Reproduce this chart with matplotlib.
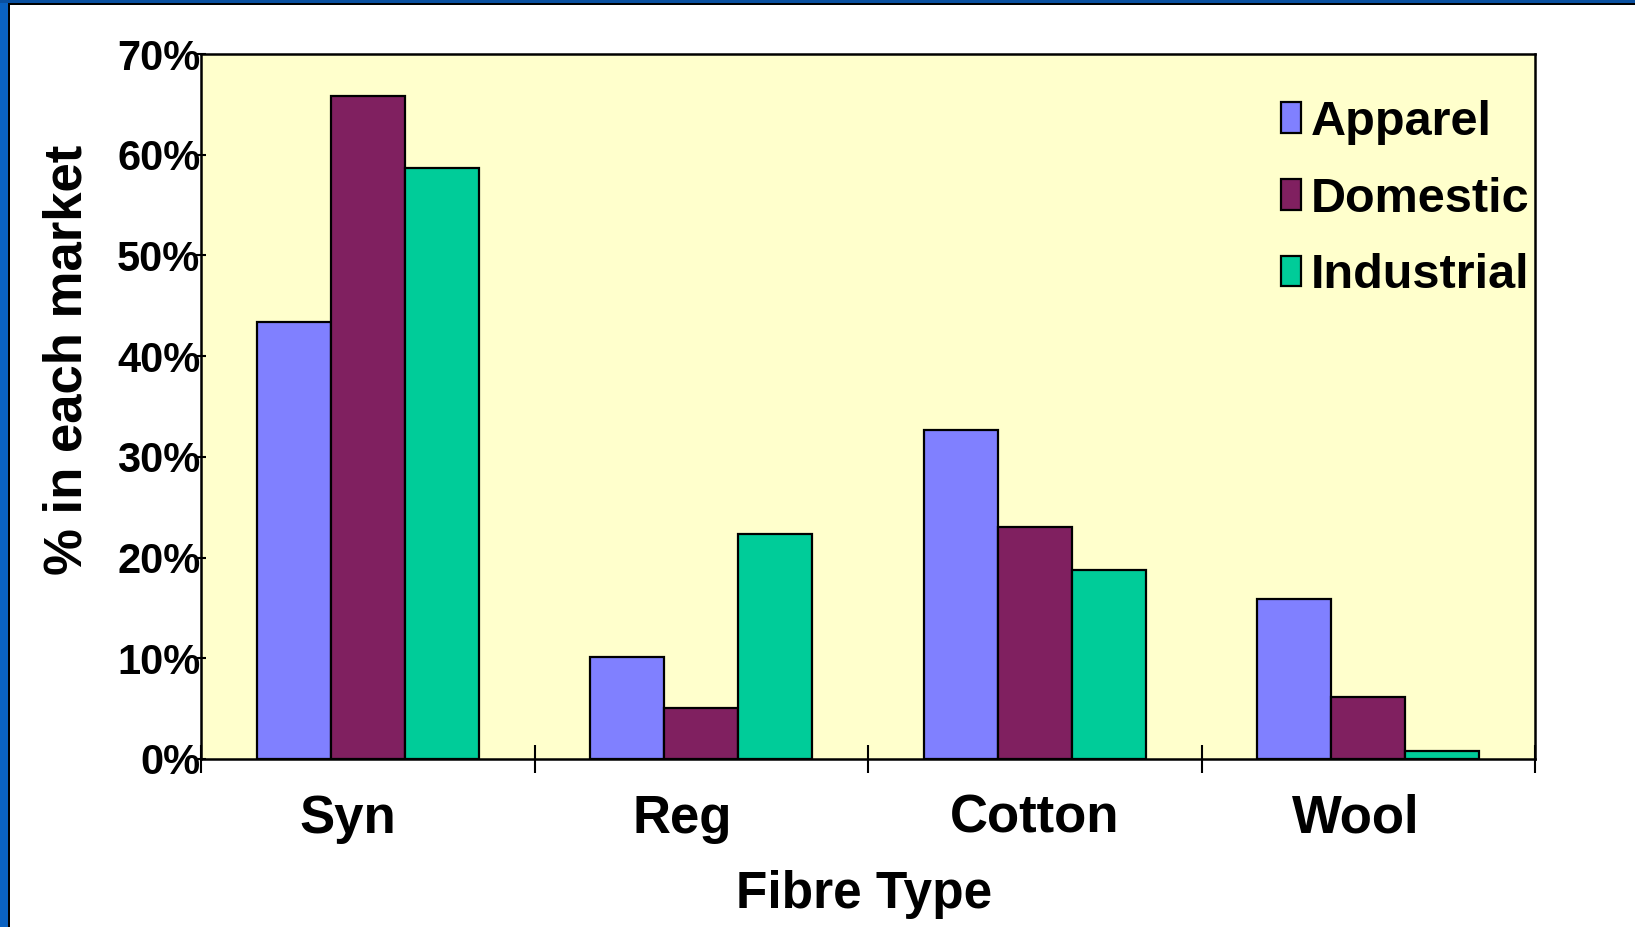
import matplotlib
matplotlib.use('Agg')
import matplotlib.pyplot as plt
import matplotlib.transforms as mtransforms
import numpy as np
from matplotlib.patches import Rectangle
from matplotlib.ticker import FuncFormatter, MultipleLocator

# Данные графика
fibres = ['Syn', 'Reg', 'Cotton', 'Wool']
markets = ['Apparel', 'Domestic', 'Industrial']
apparel = [0.434, 0.101, 0.327, 0.159]
domestic = [0.658, 0.051, 0.230, 0.062]
industrial = [0.587, 0.223, 0.188, 0.008]
colors = ['#8080FF', '#802060', '#00CC99']

plt.rcParams['font.family'] = ['Liberation Sans', 'DejaVu Sans']
plt.rcParams['font.weight'] = 'bold'

fig = plt.figure(figsize=(16.35, 9.27), dpi=100)
fig.patch.set_facecolor('white')

# Синяя рамка слайда
fig.add_artist(Rectangle((0, 0), 8 / 1635, 1, transform=fig.transFigure,
                         facecolor='#0A62C2', edgecolor='none', zorder=0))
fig.add_artist(Rectangle((0, 1 - 3 / 927), 1, 3 / 927, transform=fig.transFigure,
                         facecolor='#0A50A0', edgecolor='none', zorder=0))
fig.add_artist(Rectangle((8 / 1635, 0), 2 / 1635, 1 - 3 / 927, transform=fig.transFigure,
                         facecolor='black', edgecolor='none', zorder=0))
fig.add_artist(Rectangle((8 / 1635, 1 - 5 / 927), 1, 2 / 927, transform=fig.transFigure,
                         facecolor='black', edgecolor='none', zorder=0))

ax = fig.add_axes([201 / 1635, 1 - 759 / 927, 1334 / 1635, 705 / 927])
ax.set_facecolor('#FFFFCC')

x = np.arange(len(fibres))
w = 0.222
for i, (vals, name) in enumerate(zip([apparel, domestic, industrial], markets)):
    ax.bar(x + (i - 1) * w, vals, width=w, color=colors[i], edgecolor='black',
           linewidth=1.6, label=name, zorder=2)

ax.set_xlim(-0.5, len(fibres) - 0.5)
ax.set_ylim(0, 0.7)
ax.yaxis.set_major_locator(MultipleLocator(0.1))
ax.yaxis.set_major_formatter(FuncFormatter(lambda v, p: f'{v * 100:.0f}%'))

ax.set_xticks(x)
ax.set_xticklabels(fibres)
ax.set_xticks(np.arange(len(fibres) + 1) - 0.5, minor=True)
ax.tick_params(axis='x', which='major', length=0, pad=25, labelsize=38)
ax.tick_params(axis='x', which='minor', direction='inout', length=20, width=1.5)
ax.tick_params(axis='y', direction='inout', length=7, width=1.5, pad=-3, labelsize=30)

# подписи категорий в оригинале чуть сдвинуты влево
shifts = [-20, -19, 0, -12]
for lab, dx in zip(ax.get_xticklabels(), shifts):
    lab.set_transform(lab.get_transform() +
                      mtransforms.ScaledTranslation(dx / 100, 0, fig.dpi_scale_trans))

for s in ax.spines.values():
    s.set_linewidth(1.8)
    s.set_color('black')

ax.set_xlabel('Fibre Type', fontsize=37, fontweight='bold', va='top')
ax.xaxis.set_label_coords(0.497, -0.158)
ax.set_ylabel('% in each market', fontsize=38, fontweight='bold')
ax.yaxis.set_label_coords(-0.0814, 0.566)

ax.legend(loc='upper left', bbox_to_anchor=(1281 / 1635, 1 - 100 / 927),
          bbox_transform=fig.transFigure, frameon=False, fontsize=35,
          handlelength=0.42, handleheight=0.6, handletextpad=0.2,
          labelspacing=0.65, borderpad=0, borderaxespad=0)

plt.savefig('out.png', dpi=100)
plt.close()
